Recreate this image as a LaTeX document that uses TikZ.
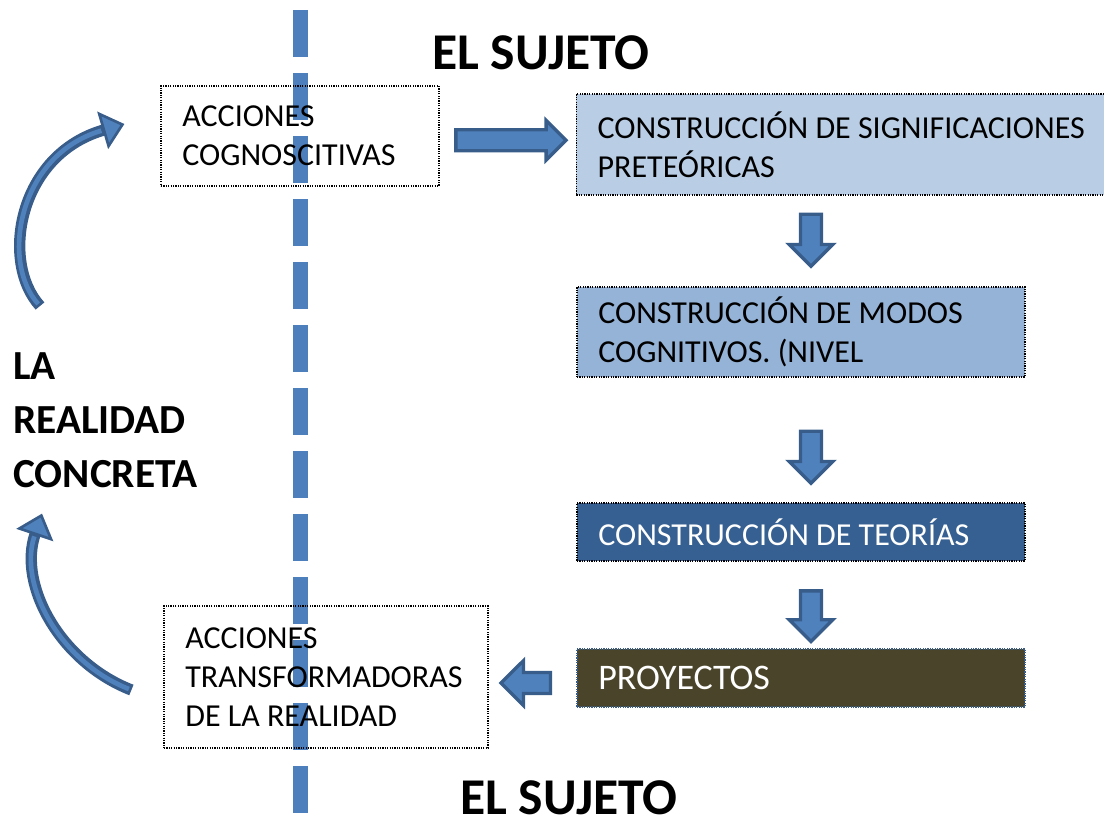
\documentclass[tikz,border=0pt]{standalone}
\usepackage{fontspec}
\setmainfont{Carlito}
\usepackage{tikz}
\usetikzlibrary{arrows.meta,shapes.arrows,calc}
\definecolor{fondo1}{RGB}{185,205,229}
\definecolor{fondo2}{RGB}{149,179,215}
\definecolor{fondo3}{RGB}{55,96,146}
\definecolor{fondo4}{RGB}{74,69,42}
\definecolor{flclaro}{RGB}{79,129,189}
\definecolor{flosc}{RGB}{56,93,138}
\definecolor{linea}{RGB}{76,127,188}
\tikzstyle{accion}=[draw, dash pattern=on 0.9pt off 0.9pt, line width=0.9pt, align=flush left, inner xsep=16pt, inner ysep=0pt, font=\fontsize{24}{29}\selectfont]
\tikzstyle{constr}=[accion, draw=black]
\tikzstyle{flecha}=[single arrow, draw=flosc, fill=flclaro, line width=2.5pt, inner sep=6.6pt]
\tikzstyle{curva}=[line width=8.5pt, draw=flosc, -{Triangle[length=17pt,width=29pt,fill=flclaro,line width=2pt]}]
\tikzstyle{claro}=[line width=3.5pt, draw=flclaro, shorten >=18pt, shorten <=2pt]
\tikzstyle{titulo}=[font=\fontsize{38.7}{46}\selectfont\bfseries, inner sep=0pt]

\begin{document}
\begin{tikzpicture}[x=0.75pt,y=-0.75pt]
    \useasboundingbox (0,0) rectangle (1104,827);
    % linea del sujeto
    \draw[linea, line width=11.25pt, dash pattern=on 35.25pt off 12pt] (300.5,10) -- (300.5,822);
    \node[titulo, anchor=base west] (suj1) at (432,70) {EL SUJETO};
    \node[titulo, anchor=base west] (suj2) at (460,814) {EL SUJETO};
    \node[anchor=north west, align=left, inner sep=0pt, font=\fontsize{31}{40.5}\selectfont\bfseries] (realidad) at (13,352) {LA\\REALIDAD\\CONCRETA};
    \node[accion, text width=176.5pt, minimum height=75pt] (acog) at (300,136) {ACCIONES\\COGNOSCITIVAS};
    \node[accion, text width=211pt, minimum height=106.5pt] (atrans) at (326,677) {ACCIONES\\TRANSFORMADORAS\\DE LA REALIDAD};
    \node[constr, fill=fondo1, text width=380pt, minimum height=75.75pt] (signif) at (851,144.5) {CONSTRUCCIÓN DE SIGNIFICACIONES\\PRETEÓRICAS};
    \node[constr, fill=fondo2, text width=304pt, minimum height=67.5pt] (modos) at (801,332) {CONSTRUCCIÓN DE MODOS\\COGNITIVOS. (NIVEL};
    \node[constr, fill=fondo3, text=white, text width=304pt, minimum height=43.5pt] (teor) at (801,532) {CONSTRUCCIÓN DE TEORÍAS};
    \node[constr, draw=flosc, fill=fondo4, text=white, text width=304pt, minimum height=43.5pt, font=\fontsize{27}{32}\selectfont] (proy) at (801,678) {PROYECTOS};
    % flechas de bloque
    \node[flecha, minimum height=82.5pt, single arrow head extend=7pt] (f1) at ($(acog.east)!0.5!(signif.west)+(-2,0)$) {};
    \node[flecha, shape border rotate=270, minimum height=39pt, single arrow head extend=8.5pt] (f2) at (811,235) {};
    \node[flecha, shape border rotate=270, minimum height=39pt, single arrow head extend=8.5pt] (f3) at (811,452) {};
    \node[flecha, shape border rotate=270, minimum height=38pt, single arrow head extend=8.5pt] (f4) at (811,611) {};
    \node[flecha, shape border rotate=180, minimum height=37pt, single arrow head extend=9pt] (f5) at (531,683) {};
    % flechas curvas
    \draw[curva] ($(realidad.north west)+(27,-46)$) .. controls (0,262) and (18,155) .. ($(acog.west)+(-36,-12)$);
    \draw[claro] ($(realidad.north west)+(27,-46)$) .. controls (0,262) and (18,155) .. ($(acog.west)+(-36,-12)$);
    \draw[curva] ($(atrans.west)+(-32,13)$) .. controls (60,662) and (18,585) .. ($(realidad.south west)+(29,26)$);
    \draw[claro] ($(atrans.west)+(-32,13)$) .. controls (60,662) and (18,585) .. ($(realidad.south west)+(29,26)$);
\end{tikzpicture}
\end{document}
